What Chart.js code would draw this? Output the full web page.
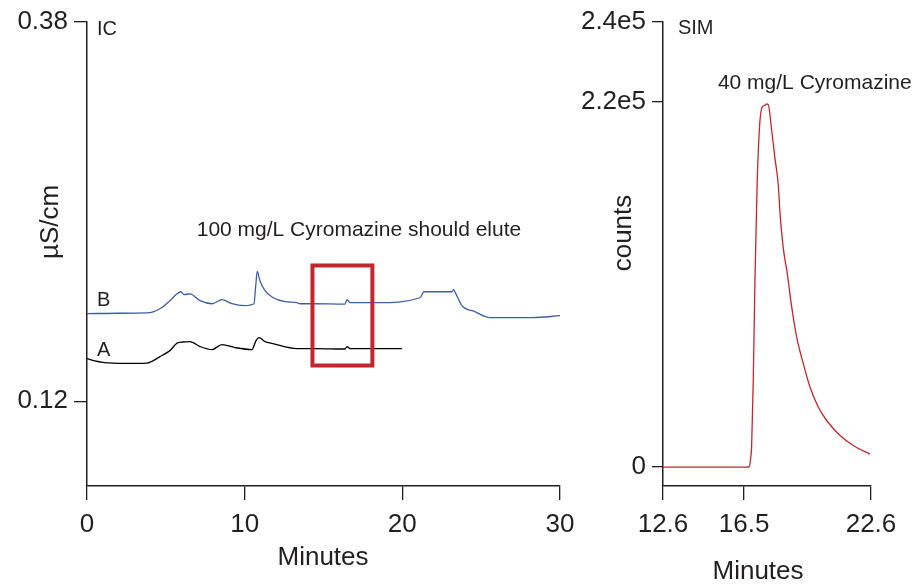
<!DOCTYPE html>
<html>
<head>
<meta charset="utf-8">
<script src="https://cdn.jsdelivr.net/npm/chart.js@4.4.1/dist/chart.umd.min.js"></script>
<style>
  body { margin: 0; background: #fff; }
  #wrap { position: relative; width: 913px; height: 588px; overflow: hidden; }
  canvas { position: absolute; top: 0; }
  #icChart { left: 0; }
  #simChart { left: 580px; }
</style>
</head>
<body>
<div id="wrap">
  <canvas id="icChart" width="600" height="588"></canvas>
  <canvas id="simChart" width="333" height="588"></canvas>
</div>
<script>
'use strict';
// ---- IC panel: conductivity vs minutes ----
let traceBMinutes = [0, 2.0, 3.8, 4.63, 5.26, 5.71, 5.96, 6.15, 6.53, 7.17, 7.93, 8.56, 9.2, 10.0, 10.59,
  10.7, 10.8, 10.97, 11.29, 11.79, 12.56, 13.32, 13.5, 14.33, 16.36, 16.49, 16.68, 18.39, 21.12, 21.37,
  23.15, 23.24, 23.4, 23.78, 24.6, 25.55, 28.28, 30.0];
let traceBValues = [0.1800, 0.1803, 0.1805, 0.1834, 0.1889, 0.1936, 0.1950, 0.1930, 0.1936, 0.1889, 0.1868,
  0.1896, 0.1868, 0.1855, 0.1868, 0.1990, 0.2089, 0.2025, 0.1957, 0.1911, 0.1882, 0.1875, 0.1868, 0.1868,
  0.1865, 0.1896, 0.1875, 0.1875, 0.1909, 0.1950, 0.1950, 0.1964, 0.1936, 0.1855, 0.1814, 0.1773, 0.1773, 0.1786];
let traceAMinutes = [0, 0.5, 1.0, 2.4, 3.8, 4.63, 5.26, 5.77, 6.09, 6.53, 7.17, 7.93, 8.56, 9.38, 10.46,
  10.72, 10.91, 11.29, 11.79, 13.32, 14.33, 16.36, 16.49, 16.68, 19.97];
let traceAValues = [0.1493, 0.1476, 0.1466, 0.1459, 0.1462, 0.1506, 0.1547, 0.1602, 0.1606, 0.1609, 0.1575,
  0.1554, 0.1588, 0.1568, 0.1554, 0.1616, 0.1636, 0.1609, 0.1595, 0.1561, 0.1561, 0.1558, 0.1575, 0.1561, 0.1561];
let icXTicks = [0, 10, 20, 30];
let icYTicks = [0.12, 0.38];
let icYTickLabels = ['0.12', '0.38'];
let elutionStart = 14.3, elutionEnd = 18.1;     // minutes
let elutionLow = 0.1445, elutionHigh = 0.2130;  // µS/cm

// ---- SIM panel: counts vs minutes ----
let simMinutes = [12.6, 14.5, 16.6, 16.75, 16.82, 16.86, 16.94, 17.02, 17.13, 17.26, 17.39, 17.5, 17.58, 17.66,
  17.83, 17.98, 18.14, 18.23, 18.38, 18.58, 18.79, 19.03, 19.35, 19.67, 20.07, 20.47, 21.11, 21.75, 22.55];
let simCounts = [0, 0, 0, 300, 6000, 12000, 52000, 112000, 172000, 208000, 217000, 217600, 218400, 218000,
  202000, 186000, 170000, 152000, 132000, 116000, 96000, 78000, 62000, 48000, 36000, 28000, 19000, 13000, 7800];
let simXTicks = [12.6, 16.5, 22.6];
let simYTicks = [0, 220000, 240000];
let simYTickLabels = ['0', '2.2e5', '2.4e5'];

let ink = '#231f20';
let fontFamily = '"Liberation Sans", Arial, Helvetica, sans-serif';
Chart.defaults.font.family = fontFamily;
Chart.defaults.color = ink;

function toPoints(xs, ys) {
  return xs.map((x, i) => ({x: x, y: ys[i]}));
}

// y axis of the SIM panel is drawn with a break above 2.2e5, like the original figure
let simStops = [[-11400, 0], [0, 0.0408], [220000, 0.8283], [240000, 1]];
class BrokenScale extends Chart.LinearScale {
  getPixelForValue(value) {
    let s = simStops;
    let i = 1;
    while (i < s.length - 1 && value > s[i][0]) i++;
    let a = s[i - 1], b = s[i];
    let f = a[1] + (value - a[0]) / (b[0] - a[0]) * (b[1] - a[1]);
    return this.getPixelForDecimal(f);
  }
  getValueForPixel(pixel) {
    let f = this.getDecimalForPixel(pixel);
    let s = simStops;
    let i = 1;
    while (i < s.length - 1 && f > s[i][1]) i++;
    let a = s[i - 1], b = s[i];
    return a[0] + (f - a[1]) / (b[1] - a[1]) * (b[0] - a[0]);
  }
}
BrokenScale.id = 'broken';
BrokenScale.defaults = Chart.LinearScale.defaults;
Chart.register(BrokenScale);

// text labels and boxes drawn on top of the plot
function notes(texts, titles, box) {
  return {
    id: 'notes',
    afterDatasetsDraw(chart) {
      let ctx = chart.ctx;
      let xs = chart.scales.x, ys = chart.scales.y;
      ctx.save();
      if (box) {
        let x1 = xs.getPixelForValue(box.x1), x2 = xs.getPixelForValue(box.x2);
        let y1 = ys.getPixelForValue(box.y2), y2 = ys.getPixelForValue(box.y1);
        ctx.strokeStyle = box.color;
        ctx.lineWidth = 4;
        ctx.strokeRect(x1, y1, x2 - x1, y2 - y1);
      }
      ctx.fillStyle = ink;
      ctx.textBaseline = 'middle';
      texts.forEach(t => {
        ctx.font = t.size + 'px ' + fontFamily;
        ctx.textAlign = t.align || 'left';
        ctx.fillText(t.text, xs.getPixelForValue(t.x), ys.getPixelForValue(t.y));
      });
      titles.forEach(t => {
        ctx.save();
        ctx.font = '26px ' + fontFamily;
        ctx.textAlign = 'center';
        ctx.translate(t.px, t.py);
        if (t.rotate) ctx.rotate(-Math.PI / 2);
        ctx.fillText(t.text, 0, 0);
        ctx.restore();
      });
      ctx.restore();
    }
  };
}

function axisX(ticksList, min, max) {
  return {
    type: 'linear', min: min, max: max,
    afterBuildTicks: s => { s.ticks = ticksList.map(v => ({value: v})); },
    afterFit: s => { s.height = 102; },
    grid: {drawOnChartArea: false, drawTicks: true, tickLength: 14, color: ink, lineWidth: 1.3},
    border: {display: true, color: ink, width: 1.5},
    ticks: {font: {size: 26}, color: ink, padding: 9, maxRotation: 0, autoSkip: false,
      callback: v => String(v)}
  };
}

function axisY(type, ticksList, labels, min, max, width, tickLen) {
  return {
    type: type, min: min, max: max,
    afterBuildTicks: s => { s.ticks = ticksList.map(v => ({value: v})); },
    afterFit: s => { s.width = width; },
    grid: {drawOnChartArea: false, drawTicks: true, tickLength: tickLen, color: ink, lineWidth: 1.3},
    border: {display: true, color: ink, width: 1.5},
    ticks: {font: {size: 26}, color: ink, padding: 6, autoSkip: false,
      callback: (v, i) => labels[i]}
  };
}

let lineStyle = {pointRadius: 0, borderWidth: 1.3, fill: false, cubicInterpolationMode: 'monotone'};

new Chart(document.getElementById('icChart').getContext('2d'), {
  type: 'line',
  data: {
    datasets: [
      Object.assign({label: 'B', data: toPoints(traceBMinutes, traceBValues), borderColor: '#3d5dab'}, lineStyle),
      Object.assign({label: 'A', data: toPoints(traceAMinutes, traceAValues), borderColor: '#000000'}, lineStyle)
    ]
  },
  options: {
    responsive: false, animation: false, devicePixelRatio: 1,
    layout: {padding: {left: 0, top: 20, right: 40, bottom: 0}},
    plugins: {legend: {display: false}, tooltip: {enabled: false}},
    scales: {
      x: axisX(icXTicks, 0, 30),
      y: axisY('linear', icYTicks, icYTickLabels, 0.062, 0.38, 87, 13)
    }
  },
  plugins: [notes(
    [
      {text: 'IC', x: 0.63, y: 0.3745, size: 20},
      {text: '100 mg/L Cyromazine should elute', x: 17.25, y: 0.2373, size: 21, align: 'center'},
      {text: 'B', x: 0.63, y: 0.1889, size: 20},
      {text: 'A', x: 0.63, y: 0.1547, size: 20}
    ],
    [
      {text: 'µS/cm', px: 51, py: 222, rotate: true},
      {text: 'Minutes', px: 323, py: 558}
    ],
    {x1: elutionStart, x2: elutionEnd, y1: elutionLow, y2: elutionHigh, color: '#c4262e'}
  )]
});

new Chart(document.getElementById('simChart').getContext('2d'), {
  type: 'line',
  data: {
    datasets: [
      Object.assign({label: 'SIM', data: toPoints(simMinutes, simCounts), borderColor: '#cc2229'}, lineStyle)
    ]
  },
  options: {
    responsive: false, animation: false, devicePixelRatio: 1,
    layout: {padding: {left: 0, top: 20, right: 42, bottom: 0}},
    plugins: {legend: {display: false}, tooltip: {enabled: false}},
    scales: {
      x: axisX(simXTicks, 12.6, 22.6),
      y: axisY('broken', simYTicks, simYTickLabels, -11400, 240000, 83, 11)
    }
  },
  plugins: [notes(
    [
      {text: 'SIM', x: 13.32, y: 238250, size: 20},
      {text: '40 mg/L Cyromazine', x: 15.24, y: 224500, size: 21}
    ],
    [
      {text: 'counts', px: 44, py: 233, rotate: true},
      {text: 'Minutes', px: 178, py: 572}
    ],
    null
  )]
});
</script>
</body>
</html>
